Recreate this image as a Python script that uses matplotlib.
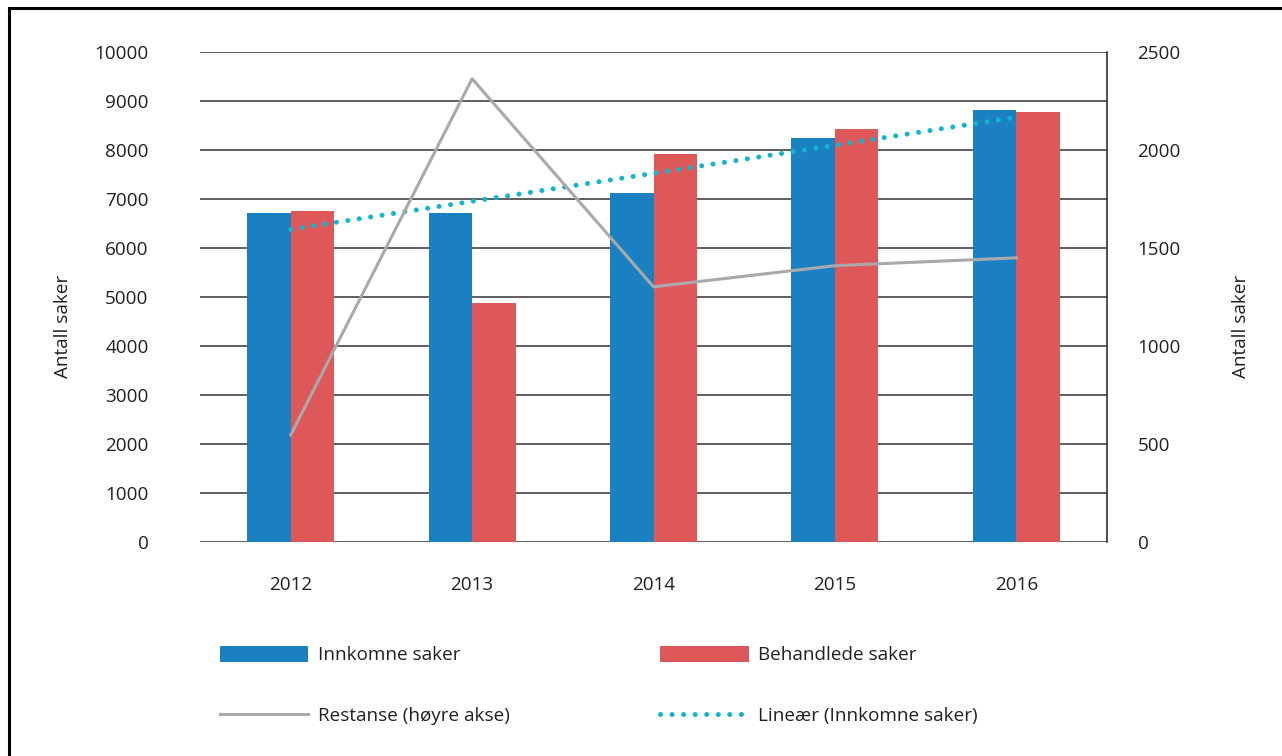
import matplotlib
matplotlib.use("Agg")
import matplotlib.pyplot as plt
import matplotlib.patches as mpatches
import numpy as np

plt.rcParams['font.family'] = ['Open Sans', 'DejaVu Sans']

years = ['2012', '2013', '2014', '2015', '2016']
innkomne = [6720, 6720, 7130, 8250, 8820]
behandlede = [6760, 4880, 7920, 8430, 8780]
restanse = [545, 2365, 1302, 1410, 1450]
left_ticks = [0, 1000, 2000, 3000, 4000, 5000, 6000, 7000, 8000, 9000, 10000]
right_ticks = [0, 500, 1000, 1500, 2000, 2500]

blue = '#1B80C1'
red = '#DE5859'
gray = '#A9A9AB'
teal = '#0FB6CC'
txt = '#231F20'
fs = 13.6

fig = plt.figure(figsize=(12.82, 7.56), dpi=100)
ax = fig.add_axes([200/1282, 1-541.7/756, 907/1282, 489.4/756])
ax2 = ax.twinx()

x = np.arange(len(years))
w = 0.24
ax.bar(x - w/2, innkomne, w, color=blue, label='Innkomne saker', zorder=2)
ax.bar(x + w/2, behandlede, w, color=red, label='Behandlede saker', zorder=2)

coef = np.polyfit(x, innkomne, 1)
trend = np.polyval(coef, x)
ax.plot(x, trend, color=teal, lw=3.6, linestyle=(0, (0.01, 2.3)),
        dash_capstyle='round', zorder=4, label='Lineær (Innkomne saker)')

ax2.plot(x, restanse, color=gray, lw=2.2, zorder=3, label='Restanse (høyre akse)')

ax.set_xlim(-0.5, 4.5)
ax.set_ylim(0, 10000)
ax2.set_ylim(0, 2500)
ax.set_yticks(left_ticks)
ax2.set_yticks(right_ticks)
ax.set_xticks(x)
ax.set_xticklabels(years)

ax.yaxis.grid(True, color='#333333', lw=1.1, zorder=0)
ax.set_axisbelow(True)
for s in ['top', 'left', 'bottom', 'right']:
    ax.spines[s].set_visible(False)
for s in ['top', 'left', 'bottom']:
    ax2.spines[s].set_visible(False)
ax2.spines['right'].set_color('#222222')
ax2.spines['right'].set_linewidth(1.1)

ax.tick_params(axis='y', length=0, pad=37, labelsize=fs, colors=txt)
ax.tick_params(axis='x', length=0, pad=25, labelsize=fs, colors=txt)
ax2.tick_params(axis='y', length=0, pad=22, labelsize=fs, colors=txt)

ax.set_ylabel('Antall saker', fontsize=fs, color=txt)
ax.yaxis.set_label_coords(-0.141, 0.439)
ax2.set_ylabel('Antall saker', fontsize=fs, color=txt)
ax2.yaxis.set_label_coords(1.1378, 0.439)

h1, l1 = ax.get_legend_handles_labels()
h2, l2 = ax2.get_legend_handles_labels()
handles_map = dict(zip(l1 + l2, h1 + h2))
order = ['Innkomne saker', 'Restanse (høyre akse)', 'Behandlede saker', 'Lineær (Innkomne saker)']
leg = fig.legend([handles_map[k] for k in order], order, loc='upper left',
                 bbox_to_anchor=(212/1282, 1-638/756), ncol=2, frameon=False,
                 fontsize=fs, handlelength=4.7, handleheight=1.0, handletextpad=0.5,
                 columnspacing=7.97, labelspacing=2.22, borderaxespad=0)
for t in leg.get_texts():
    t.set_color(txt)

frame = mpatches.Rectangle((9/1282, -0.1), 1.2, 1.1 - 8/756, transform=fig.transFigure,
                           fill=False, edgecolor='black', lw=2.2, clip_on=False)
fig.patches.append(frame)

fig.savefig('out.png', dpi=100)
